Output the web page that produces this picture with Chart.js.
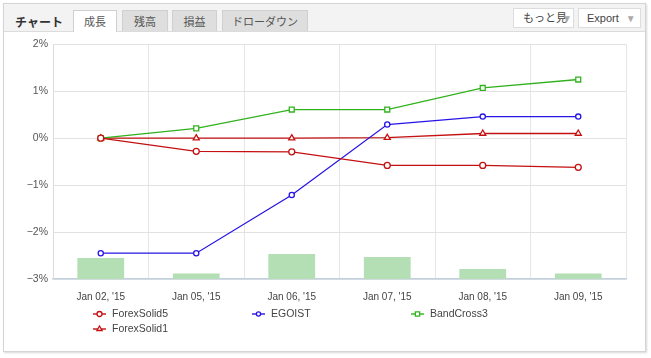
<!DOCTYPE html>
<html>
<head>
<meta charset="utf-8">
<script src="https://cdn.jsdelivr.net/npm/chart.js"></script>
<style>
  body { margin: 0; background: #fff; font-family: "Liberation Sans", "Noto Sans CJK JP", sans-serif; }
  #panel { position: absolute; left: 3px; top: 3px; width: 641px; height: 347px; border: 1px solid #d4d4d4; box-shadow: 1px 1px 2px #d8d8d8; background: #fff; }
  #head { position: absolute; left: 0; top: 0; width: 641px; height: 27px; background: #f3f3f3; border-bottom: 1px solid #dcdcdc; }
  .title { position: absolute; left: 11px; top: 9px; font-size: 12px; font-weight: bold; color: #333; }
  .tab { position: absolute; top: 6px; height: 21px; background: #dedede; border: 1px solid #d0d0d0; border-bottom: none; font-size: 11px; color: #555; text-align: center; line-height: 22px; box-sizing: border-box; }
  .tab.on { background: #fff; height: 22px; }
  .btn { position: absolute; top: 4px; height: 20px; background: #fff; border: 1px solid #ddd; font-size: 11px; color: #444; line-height: 19px; box-sizing: border-box; padding-left: 8px; white-space: nowrap; overflow: hidden; }
  .tri { color: #aaa; font-size: 10px; }
  #wrap { position: absolute; left: 1px; top: 29px; width: 641px; height: 318px; }
</style>
</head>
<body>
<div id="panel">
  <div id="head">
    <div class="title">チャート</div>
    <div class="tab on" style="left:69px;width:44px;">成長</div>
    <div class="tab" style="left:118px;width:46px;">残高</div>
    <div class="tab" style="left:168px;width:45px;">損益</div>
    <div class="tab" style="left:218px;width:86px;">ドローダウン</div>
    <div class="btn" style="left:509px;width:61px;padding-left:9px;">もっと見<span class="tri" style="margin-left:-5px;">▼</span></div>
    <div class="btn" style="left:574px;width:63px;">Export <span class="tri" style="margin-left:4px;">▼</span></div>
  </div>
  <div id="wrap"><canvas id="growthChart"></canvas></div>
</div>
<script>
// tick labels / categories
const dates = ["Jan 02, '15", "Jan 05, '15", "Jan 06, '15", "Jan 07, '15", "Jan 08, '15", "Jan 09, '15"];

// growth in %
const forexSolid5 = [0, -0.28, -0.29, -0.58, -0.58, -0.62];
const egoist = [-2.45, -2.45, -1.21, 0.29, 0.46, 0.46];
const bandCross3 = [0, 0.21, 0.61, 0.61, 1.07, 1.25];
const forexSolid1 = [0, 0, 0, 0.01, 0.1, 0.1];

// bars along the bottom (own hidden axis)
const barValues = [8.9, 2.3, 10.6, 9.4, 4.3, 2.3];

function lineSet(label, data, color, style, radius) {
    return {
        type: 'line',
        label: label,
        data: data,
        borderColor: color,
        backgroundColor: '#fff',
        borderWidth: 1.3,
        pointStyle: style,
        pointRadius: radius,
        pointBorderWidth: 1.3,
        pointBackgroundColor: '#fff',
        tension: 0,
        yAxisID: 'y',
        order: 1
    };
}

// legend drawn on the canvas in three fixed columns
const gridLegend = {
    id: 'gridLegend',
    afterDraw(chart) {
        const ctx = chart.ctx;
        const area = chart.chartArea;
        const sets = chart.data.datasets.filter(d => d.type === 'line');
        ctx.save();
        ctx.font = '10.5px "Liberation Sans", sans-serif';
        ctx.textBaseline = 'middle';
        sets.forEach((ds, i) => {
            const col = i % 3, row = Math.floor(i / 3);
            const x = area.left + 40 + col * 159;
            const y = area.bottom + 35 + row * 15;
            ctx.globalAlpha = 0.7;
            ctx.strokeStyle = ds.borderColor;
            ctx.lineWidth = 2;
            ctx.beginPath();
            ctx.moveTo(x, y);
            ctx.lineTo(x + 13, y);
            ctx.stroke();
            ctx.globalAlpha = 1;
            ctx.fillStyle = '#fff';
            ctx.lineWidth = 1.3;
            Chart.helpers.drawPoint(ctx, { pointStyle: ds.pointStyle, radius: ds.pointRadius - 0.5, borderWidth: 1.3 }, x + 6.5, y);
            ctx.fillStyle = '#444';
            ctx.fillText(ds.label, x + 19, y);
        });
        ctx.restore();
    }
};

const ctx = document.getElementById('growthChart').getContext('2d');
new Chart(ctx, {
    type: 'bar',
    data: {
        labels: dates,
        datasets: [
            lineSet('ForexSolid5', forexSolid5, 'rgb(196,16,16)', 'circle', 3),
            lineSet('EGOIST', egoist, 'rgb(40,20,230)', 'circle', 2.6),
            lineSet('BandCross3', bandCross3, 'rgb(48,178,28)', 'rect', 3.5),
            lineSet('ForexSolid1', forexSolid1, 'rgb(196,16,16)', 'triangle', 3.5),
            {
                type: 'bar',
                label: 'bars',
                data: barValues,
                backgroundColor: 'rgb(180,222,180)',
                barPercentage: 0.49,
                categoryPercentage: 1,
                yAxisID: 'y2',
                order: 10
            }
        ]
    },
    options: {
        responsive: true,
        maintainAspectRatio: false,
        animation: false,
        layout: { padding: { top: 11, right: 20, left: 0, bottom: 0 } },
        plugins: { legend: { display: false }, tooltip: { enabled: false } },
        scales: {
            x: {
                offset: true,
                grid: { offset: true, color: '#e6e6e6', drawTicks: false },
                border: { color: '#c3d1df', width: 1.5 },
                ticks: { padding: 12, color: '#444', font: { size: 10, family: '"Liberation Sans", sans-serif' }, maxRotation: 0 },
                afterFit: s => { s.height = 72; }
            },
            y: {
                min: -3,
                max: 2,
                grid: {
                    drawTicks: false,
                    color: c => (Math.abs(c.tick.value - Math.round(c.tick.value)) < 1e-6 ? '#e2e2e2' : '#f2f2f2')
                },
                border: { color: '#dcdcdc' },
                ticks: {
                    stepSize: 0.2,
                    padding: 5,
                    color: '#555',
                    font: { size: 10.5, family: '"Liberation Sans", sans-serif' },
                    callback: v => {
                        const r = Math.round(v);
                        if (Math.abs(v - r) > 1e-6) return null;
                        return (r < 0 ? '\u2212' + (-r) : r) + '%';
                    }
                },
                afterFit: s => { s.width = 48; }
            },
            y2: { display: false, min: 0, max: 100 }
        }
    },
    plugins: [gridLegend]
});
</script>
</body>
</html>
